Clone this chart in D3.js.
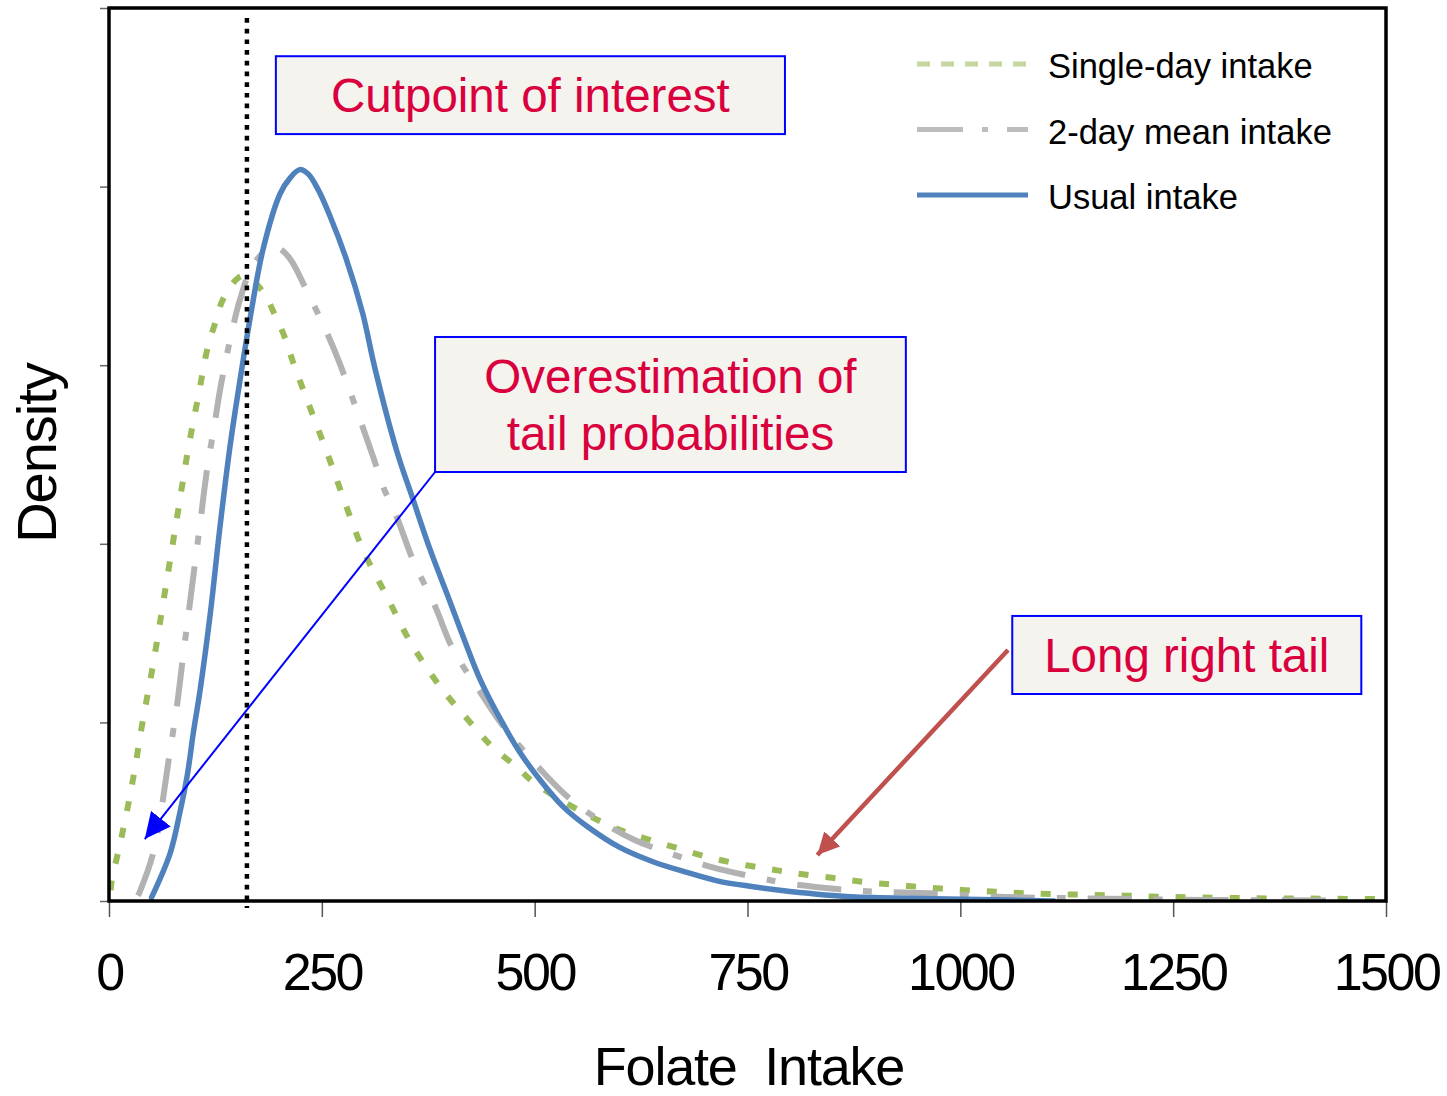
<!DOCTYPE html>
<html>
<head>
<meta charset="utf-8">
<script src="https://cdn.jsdelivr.net/npm/d3@7"></script>
<style>
  body { margin: 0; background: #fff; }
  svg { display: block; font-family: "Liberation Sans", Arial, sans-serif; }
</style>
</head>
<body>
<svg id="chart" width="1447" height="1096"></svg>
<script>
// folate intake (x) vs density
const singleDay = [
  [2, 0.00006], [3, 0.000108], [14, 0.000342], [27, 0.00065], [39, 0.00099], [52, 0.00133],
  [66, 0.00174], [80, 0.00215], [93, 0.00253], [105, 0.00283], [116, 0.0031], [125, 0.00324],
  [134, 0.00337], [152, 0.00349], [161, 0.0035], [181, 0.00341], [195, 0.00328], [207, 0.00315],
  [216, 0.00302], [260, 0.00246], [275, 0.00226], [298, 0.00197], [327, 0.0017], [354, 0.00145],
  [389, 0.0012], [428, 0.00098], [451, 0.00086], [479, 0.00075], [500, 0.00066], [555, 0.0005],
  [594, 0.00041], [630, 0.00035], [665, 0.0003], [700, 0.00025], [737, 0.00021], [774, 0.00018],
  [807, 0.000155], [849, 0.00013], [888, 0.000106], [926, 0.00009], [964, 0.000074], [1002, 0.000062],
  [1041, 0.000052], [1078, 0.000043], [1117, 0.000038], [1156, 0.000034], [1193, 0.00003],
  [1231, 0.000024], [1270, 0.000021], [1348, 0.000015], [1423, 0.000013], [1500, 0.00001]
];

const twoDayMean = [
  [34, 0.00003], [36, 0.00005], [52, 0.00027], [72, 0.00085], [80, 0.0011], [87, 0.00137],
  [94, 0.00163], [101, 0.00189], [108, 0.00215], [115, 0.00241], [125, 0.0027], [130, 0.00285],
  [136, 0.003], [144, 0.00318], [154, 0.00337], [168, 0.00355], [184, 0.00364], [197, 0.00366],
  [212, 0.0036], [232, 0.00342], [257, 0.00317], [271, 0.00301], [310, 0.00249], [322, 0.00232],
  [338, 0.00215], [357, 0.00191], [383, 0.00165], [404, 0.00141], [436, 0.00117], [463, 0.00098],
  [512, 0.00071], [542, 0.00057], [580, 0.00044], [618, 0.00034], [663, 0.00026], [708, 0.00019],
  [753, 0.00014], [796, 0.0001], [855, 0.000067], [900, 0.000052], [964, 0.000043], [1043, 0.000024],
  [1141, 0.000015], [1285, 0.000006], [1446, 0.000003]
];

const usual = [
  [50, 0.00002], [72, 0.00027], [83, 0.00049], [92, 0.000705], [99, 0.00094], [107, 0.00118],
  [119, 0.00161], [130, 0.00208], [142, 0.00254], [154, 0.00292], [166, 0.00327], [181, 0.00365],
  [201, 0.00396], [213, 0.00405], [224, 0.004095], [234, 0.00407], [246, 0.00398], [260, 0.00383],
  [279, 0.00359], [298, 0.00329], [312, 0.00299], [338, 0.00252], [357, 0.00225], [377, 0.00197],
  [397, 0.00172], [416, 0.00148], [436, 0.00124], [463, 0.00099], [483, 0.00083], [506, 0.00068],
  [533, 0.00053], [561, 0.00042], [600, 0.0003], [639, 0.00022], [679, 0.00016], [717, 0.00011],
  [757, 0.00008], [788, 0.00006], [866, 0.000025], [944, 0.000015], [1023, 0.000009], [1110, 0]
];

const seriesNames = ['Single-day intake', '2-day mean intake', 'Usual intake'];
const xTicks = [0, 250, 500, 750, 1000, 1250, 1500];
const yTicks = [0, 0.001, 0.002, 0.003, 0.004, 0.005];
const cutpoint = 162;

// annotation boxes and arrows, in data units
const notes = [
  { lines: ['Cutpoint of interest'], x0: 196, x1: 794, y0: 0.00473, y1: 0.004294 },
  { lines: ['Overestimation of', 'tail probabilities'], x0: 383, x1: 936, y0: 0.003158, y1: 0.002402 },
  { lines: ['Long right tail'], x0: 1061, x1: 1471, y0: 0.001596, y1: 0.001159 }
];
const blueArrow = { from: [383, 0.002402], to: [42, 0.000347] };
const redArrow = { from: [1056, 0.001405], to: [832, 0.000258] };

const svg = d3.select('#chart');
const plotLeft = 109, plotRight = 1386, plotTop = 8, plotBottom = 901;

const x = d3.scaleLinear().domain([0, 1500]).range([plotLeft, plotRight]);
const y = d3.scaleLinear().domain([0, 0.005]).range([plotBottom, plotTop]);

const defs = svg.append('defs');
defs.append('clipPath').attr('id', 'plot-clip')
  .append('rect')
  .attr('x', plotLeft).attr('y', plotTop)
  .attr('width', plotRight - plotLeft).attr('height', plotBottom - plotTop);

// y axis ticks (no labels)
const yAxis = svg.append('g')
  .attr('transform', `translate(${plotLeft},0)`)
  .call(d3.axisLeft(y).tickValues(yTicks).tickSize(9).tickFormat(''));
yAxis.select('.domain').remove();
yAxis.selectAll('line').attr('stroke', '#666').attr('stroke-width', 1.5);

// x axis
const xAxis = svg.append('g')
  .attr('transform', `translate(0,${plotBottom})`)
  .call(d3.axisBottom(x).tickValues(xTicks).tickSize(16).tickFormat(d3.format('d')));
xAxis.select('.domain').remove();
xAxis.selectAll('line').attr('stroke', '#555').attr('stroke-width', 1.5);
xAxis.selectAll('text')
  .attr('y', 89).attr('dy', 0)
  .attr('fill', '#000')
  .style('font-size', '52px')
  .style('letter-spacing', '-2.5px')
  .style('font-family', '"Liberation Sans", Arial, sans-serif');

const line = d3.line()
  .x(d => x(d[0]))
  .y(d => y(d[1]))
  .curve(d3.curveCatmullRom.alpha(0.5));

const plot = svg.append('g').attr('clip-path', 'url(#plot-clip)');

plot.append('path')
  .datum(singleDay)
  .attr('d', line)
  .attr('fill', 'none')
  .attr('stroke', '#9bbb59')
  .attr('stroke-width', 6)
  .attr('stroke-dasharray', '10,17');

plot.append('path')
  .datum(twoDayMean)
  .attr('d', line)
  .attr('fill', 'none')
  .attr('stroke', '#b2b2b2')
  .attr('stroke-width', 6)
  .attr('stroke-dasharray', '44,22,9,22');

plot.append('path')
  .datum(usual)
  .attr('d', line)
  .attr('fill', 'none')
  .attr('stroke', '#4f81bd')
  .attr('stroke-width', 5.5)
  .attr('stroke-linecap', 'round')
  .attr('stroke-linejoin', 'round');

// cutpoint
svg.append('line')
  .attr('x1', x(cutpoint)).attr('x2', x(cutpoint))
  .attr('y1', 18).attr('y2', plotBottom + 7)
  .attr('stroke', '#000')
  .attr('stroke-width', 4.5)
  .attr('stroke-dasharray', '4.7,6');

// frame
svg.append('rect')
  .attr('x', plotLeft).attr('y', plotTop)
  .attr('width', plotRight - plotLeft).attr('height', plotBottom - plotTop)
  .attr('fill', 'none')
  .attr('stroke', '#000')
  .attr('stroke-width', 3.5);

// axis titles
svg.append('text')
  .attr('x', 749).attr('y', 1085)
  .attr('text-anchor', 'middle')
  .style('font-size', '54px')
  .style('letter-spacing', '-1.2px')
  .style('white-space', 'pre')
  .text('Folate  Intake');

svg.append('text')
  .attr('transform', 'translate(56,453) rotate(-90)')
  .attr('text-anchor', 'middle')
  .style('font-size', '56px')
  .style('letter-spacing', '-1px')
  .text('Density');

// legend
const legendStyles = [
  { color: '#c3d69b', dash: '13,11' },
  { color: '#bdbdbd', dash: '46,19,6,19' },
  { color: '#4f81bd', dash: null }
];
const legend = svg.append('g');
seriesNames.forEach((name, i) => {
  const ly = 64 + i * 65.5;
  legend.append('line')
    .attr('x1', 917).attr('x2', 1028)
    .attr('y1', ly).attr('y2', ly)
    .attr('stroke', legendStyles[i].color)
    .attr('stroke-width', 5)
    .attr('stroke-dasharray', legendStyles[i].dash);
  legend.append('text')
    .attr('x', 1048).attr('y', ly + 14)
    .style('font-size', '34.5px')
    .attr('fill', '#000')
    .text(name);
});

// arrows
function arrowHead(id, color, len, wid) {
  defs.append('marker')
    .attr('id', id)
    .attr('viewBox', `0 0 ${len} ${wid}`)
    .attr('refX', len).attr('refY', wid / 2)
    .attr('markerWidth', len).attr('markerHeight', wid)
    .attr('markerUnits', 'userSpaceOnUse')
    .attr('orient', 'auto')
    .append('path')
    .attr('d', `M0,0L${len},${wid / 2}L0,${wid}Z`)
    .attr('fill', color);
}
arrowHead('head-blue', '#0000ff', 26, 25);
arrowHead('head-red', '#c0504d', 22, 22);

svg.append('line')
  .attr('x1', x(blueArrow.from[0])).attr('y1', y(blueArrow.from[1]))
  .attr('x2', x(blueArrow.to[0])).attr('y2', y(blueArrow.to[1]))
  .attr('stroke', '#0000ff')
  .attr('stroke-width', 2)
  .attr('marker-end', 'url(#head-blue)');

svg.append('line')
  .attr('x1', x(redArrow.from[0])).attr('y1', y(redArrow.from[1]))
  .attr('x2', x(redArrow.to[0])).attr('y2', y(redArrow.to[1]))
  .attr('stroke', '#c0504d')
  .attr('stroke-width', 4.5)
  .attr('marker-end', 'url(#head-red)');

// annotation boxes
notes.forEach(n => {
  const bx = x(n.x0), by = y(n.y0), bw = x(n.x1) - x(n.x0), bh = y(n.y1) - y(n.y0);
  svg.append('rect')
    .attr('x', bx).attr('y', by)
    .attr('width', bw).attr('height', bh)
    .attr('fill', '#f4f3ee')
    .attr('stroke', '#0000ff')
    .attr('stroke-width', 2);
  const lh = 57;
  const cy = by + bh / 2 - (n.lines.length - 1) * lh / 2;
  n.lines.forEach((t, i) => {
    svg.append('text')
      .attr('x', bx + bw / 2)
      .attr('y', cy + i * lh + 17)
      .attr('text-anchor', 'middle')
      .attr('fill', '#d9003d')
      .style('font-size', '47.5px')
      .text(t);
  });
});
</script>
</body>
</html>
